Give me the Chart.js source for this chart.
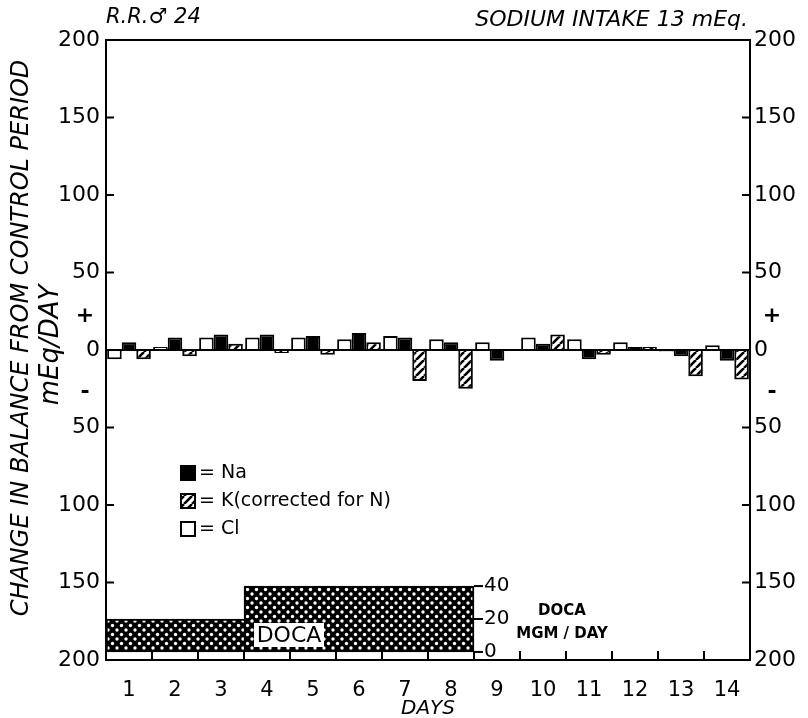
<!DOCTYPE html>
<html>
<head>
<meta charset="utf-8">
<script src="https://cdn.jsdelivr.net/npm/chart.js@4"></script>
<style>
html,body{margin:0;background:#fff}
#wrap{width:808px;height:718px}
</style>
</head>
<body>
<div id="wrap"><canvas id="grafico"></canvas></div>
<script>
// dados (mEq/dia, variação do balanço)
let dias = ["1","2","3","4","5","6","7","8","9","10","11","12","13","14"];
let na = [5, 8, 10, 10, 9, 11, 8, 5, -7, 4, -6, 2, -4, -7];
let k  = [-6, -4, 4, -2, -3, 5, -20, -25, 0, 10, -3, 2, -17, -19];
let cl = [-6, 2, 8, 8, 8, 7, 9, 7, 5, 8, 7, 5, -1, 3];
let doca = [20, 20, 20, 40, 40, 40, 40, 40, null, null, null, null, null, null];
let ticksY = [-200, -150, -100, -50, 0, 50, 100, 150, 200];
let ticksDoca = [0, 20, 40];

const fonte = "'DejaVu Sans', sans-serif";

function padraoListras(){
  const c = document.createElement("canvas");
  c.width = 8; c.height = 8;
  const g = c.getContext("2d");
  g.fillStyle = "#fff"; g.fillRect(0,0,8,8);
  g.strokeStyle = "#000"; g.lineWidth = 2.6;
  for(let o=-8;o<=8;o+=8){
    g.beginPath(); g.moveTo(o,8); g.lineTo(o+8,0); g.stroke();
  }
  return g.createPattern(c, "repeat");
}

function padraoDoca(){
  const c = document.createElement("canvas");
  c.width = 9; c.height = 9;
  const g = c.getContext("2d");
  g.fillStyle = "#000"; g.fillRect(0,0,9,9);
  g.fillStyle = "#fff";
  [[0,0],[9,0],[0,9],[9,9],[4.5,4.5]].forEach(p=>{
    g.beginPath(); g.arc(p[0],p[1],1.7,0,Math.PI*2); g.fill();
  });
  return g.createPattern(c, "repeat");
}

const listras = padraoListras();
const xadrez = padraoDoca();

function linha(ctx,x1,y1,x2,y2){
  ctx.beginPath(); ctx.moveTo(x1,y1); ctx.lineTo(x2,y2); ctx.stroke();
}

const extras = {
  id: "extras",
  afterDraw(c){
    const {ctx, chartArea:a, scales:{x,y,y2}} = c;
    ctx.save();
    ctx.strokeStyle = "#000"; ctx.fillStyle = "#000"; ctx.lineWidth = 2;
    ctx.strokeRect(a.left, a.top, a.right-a.left, a.bottom-a.top);

    // marcas para dentro
    ticksY.forEach(v=>{
      const p = y.getPixelForValue(v);
      linha(ctx, a.left, p, a.left+8, p);
      linha(ctx, a.right-8, p, a.right, p);
    });
    for(let i=0;i<dias.length-1;i++){
      const p = (x.getPixelForValue(i)+x.getPixelForValue(i+1))/2;
      linha(ctx, p, a.bottom, p, a.bottom-9);
    }

    // + e -
    ctx.font = "bold 22px " + fonte;
    ctx.textAlign = "center"; ctx.textBaseline = "middle";
    const pMais = y.getPixelForValue(22), pMenos = y.getPixelForValue(-27);
    ctx.fillText("+", a.left-21, pMais);
    ctx.fillText("+", a.right+22, pMais);
    ctx.fillText("-", a.left-21, pMenos);
    ctx.fillText("-", a.right+22, pMenos);

    // títulos do eixo y
    ctx.save();
    ctx.translate(22, 338); ctx.rotate(-Math.PI/2);
    ctx.font = "italic 24px " + fonte;
    ctx.fillText("CHANGE IN BALANCE FROM CONTROL PERIOD", 0, 0);
    ctx.restore();
    ctx.save();
    ctx.translate(51, 345); ctx.rotate(-Math.PI/2);
    ctx.font = "italic 26px " + fonte;
    ctx.fillText("mEq/DAY", 0, 0);
    ctx.restore();

    // textos do topo
    ctx.font = "italic 21px " + fonte;
    ctx.textAlign = "left";
    ctx.fillText("R.R.\u2642 24", a.left, 18);
    ctx.font = "italic 22px " + fonte;
    ctx.textAlign = "right";
    ctx.fillText("SODIUM INTAKE 13 mEq.", a.right-2, 20);

    // legenda
    const ordem = [1, 2, 0];
    ctx.font = "19px " + fonte;
    ctx.textAlign = "left";
    ordem.forEach((di, i)=>{
      const ds = c.data.datasets[di];
      const cy = 473 + i*28;
      ctx.fillStyle = ds.backgroundColor;
      ctx.fillRect(181, cy-7, 14, 14);
      ctx.strokeRect(181, cy-7, 14, 14);
      ctx.fillStyle = "#000";
      ctx.fillText("= " + ds.label, 199, cy);
    });

    // eixo DOCA
    const xd = (x.getPixelForValue(7)+x.getPixelForValue(8))/2;
    ctx.font = "20px " + fonte;
    ticksDoca.forEach(v=>{
      const p = y2.getPixelForValue(v);
      linha(ctx, xd, p, xd+9, p);
      ctx.fillText(String(v), xd+10, p);
    });
    ctx.textAlign = "center";
    ctx.font = "bold 15px " + fonte;
    ctx.fillText("DOCA", 562, 611);
    ctx.fillText("MGM / DAY", 562, 634);

    // rótulo DOCA no bloco
    ctx.fillStyle = "#fff";
    ctx.fillRect(254, 623, 70, 24);
    ctx.fillStyle = "#000";
    ctx.font = "22px " + fonte;
    ctx.fillText("DOCA", 289, 636);

    ctx.restore();
  }
};

const barra = {borderColor:"#000", borderWidth:2, yAxisID:"y", categoryPercentage:0.95, barPercentage:1.0};

new Chart(document.getElementById("grafico"), {
  type: "bar",
  data: {
    labels: dias,
    datasets: [
      Object.assign({label:"Cl", data:cl, backgroundColor:"#fff"}, barra),
      Object.assign({label:"Na", data:na, backgroundColor:"#000"}, barra),
      Object.assign({label:"K(corrected for N)", data:k, backgroundColor:listras}, barra),
      {
        label:"DOCA", data:doca, yAxisID:"y2", grouped:false,
        backgroundColor:xadrez, borderColor:"#000", borderSkipped:false,
        categoryPercentage:1.0, barPercentage:1.0,
        borderWidth: ctx => ({top:2, bottom:2, left:(ctx.dataIndex===0||ctx.dataIndex===3)?2:0, right:ctx.dataIndex===7?2:0})
      }
    ]
  },
  options: {
    responsive: true,
    maintainAspectRatio: false,
    animation: false,
    layout: {padding:{top:40, left:0, right:0, bottom:0}},
    plugins: {legend:{display:false}, tooltip:{enabled:false}},
    scales: {
      x: {
        grid: {display:false, drawTicks:false},
        border: {color:"#000", width:2},
        ticks: {color:"#000", font:{family:fonte, size:21}, padding:18},
        title: {display:true, text:"DAYS", color:"#000", font:{family:fonte, size:20, style:"italic"}, padding:{top:0, bottom:-3}},
        afterFit: s => { s.height = 58; }
      },
      y: {
        position: "left", min:-200, max:200,
        afterBuildTicks: s => { s.ticks = ticksY.map(v=>({value:v})); },
        ticks: {color:"#000", font:{family:fonte, size:22}, padding:6, callback: v => Math.abs(v)},
        grid: {drawTicks:false, lineWidth:2, color: c => c.tick && c.tick.value===0 ? "#000" : "rgba(0,0,0,0)"},
        border: {color:"#000", width:2},
        afterFit: s => { s.width = 106; }
      },
      yR: {
        position: "right", min:-200, max:200,
        afterBuildTicks: s => { s.ticks = ticksY.map(v=>({value:v})); },
        ticks: {color:"#000", font:{family:fonte, size:22}, padding:4, callback: v => Math.abs(v)},
        grid: {display:false, drawTicks:false},
        border: {color:"#000", width:2},
        afterFit: s => { s.width = 58; }
      },
      y2: {display:false, min:-4.9, max:371.6}
    }
  },
  plugins: [extras]
});
</script>
</body>
</html>
